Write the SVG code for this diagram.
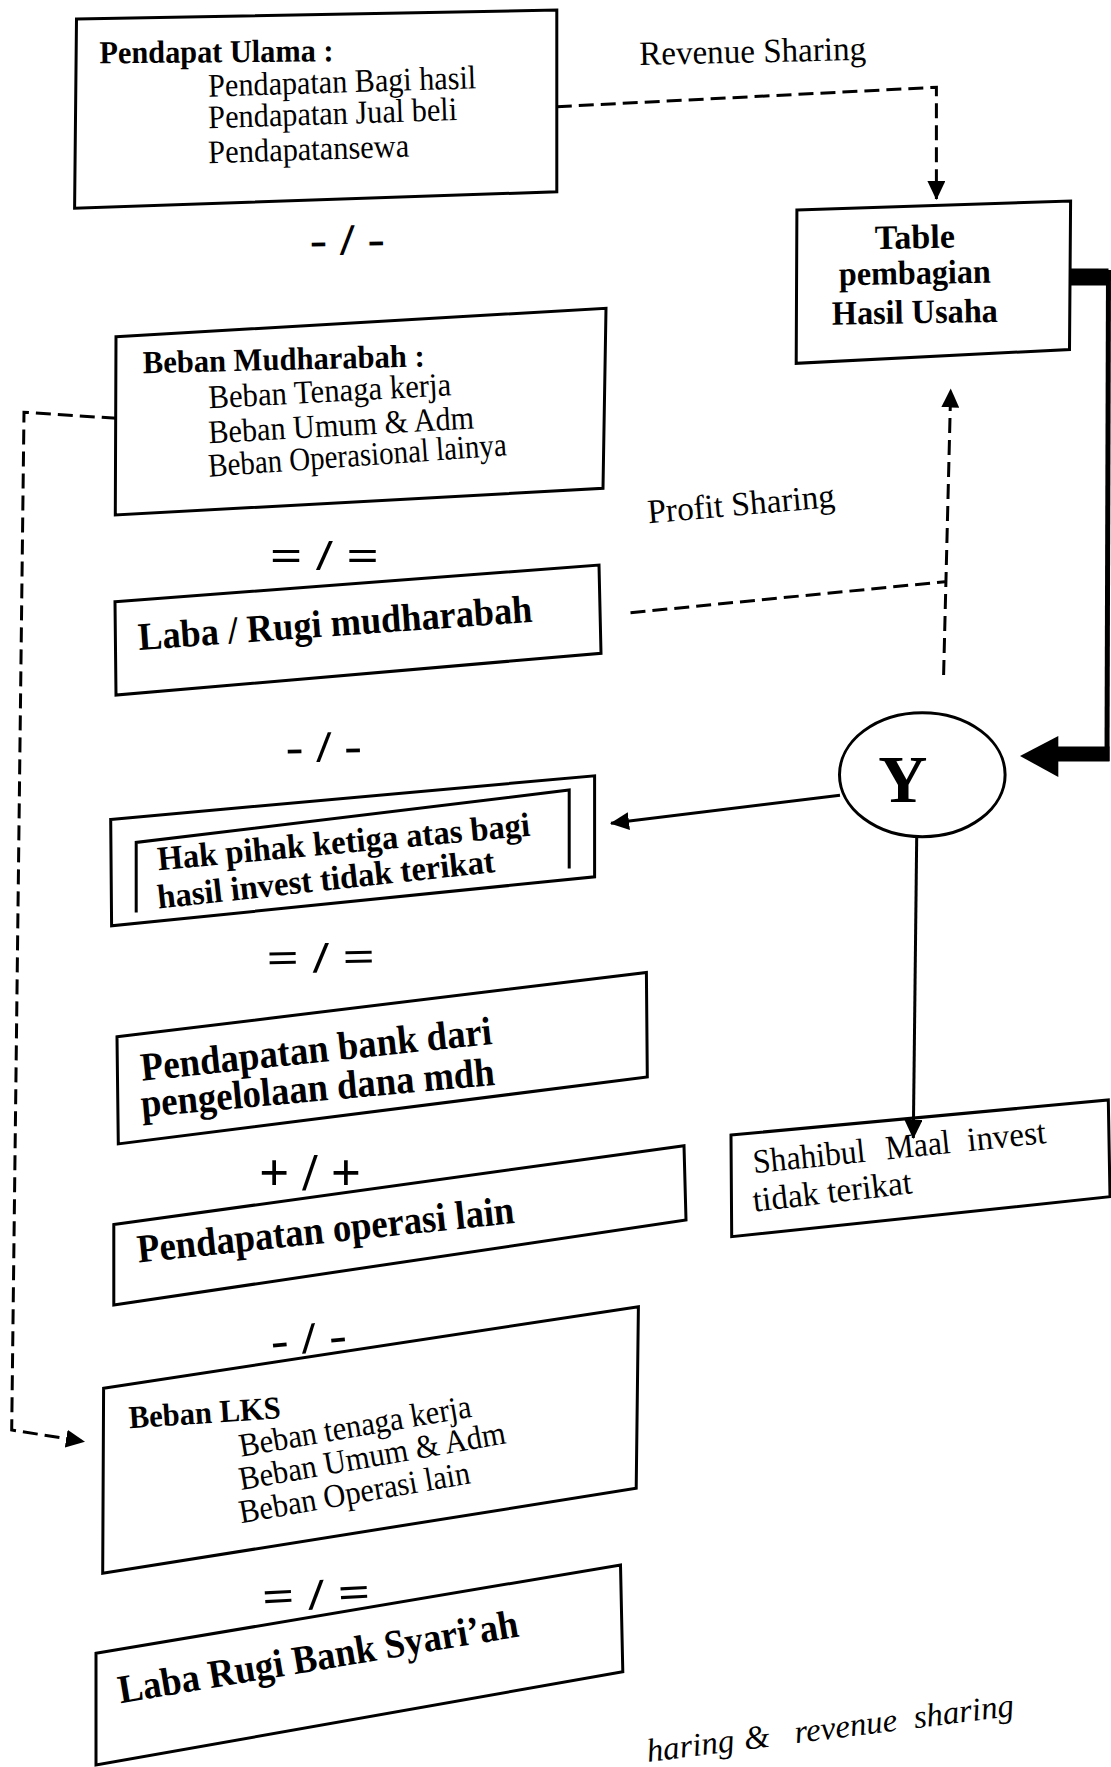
<svg xmlns="http://www.w3.org/2000/svg" width="1111" height="1767" viewBox="0 0 1111 1767">
  <defs>
    <style>
      .bg{fill:#fff}
      .box{fill:none;stroke:#000;stroke-width:3;stroke-linejoin:miter}
      .ln{fill:none;stroke:#000;stroke-width:3}
      .ds{fill:none;stroke:#000;stroke-width:3;stroke-dasharray:15 7}
      .t{font-family:"Liberation Serif","Times New Roman",serif;fill:#000}
      .b{font-weight:bold}
      .i{font-style:italic}
      .s32{font-size:32px}
      .s33{font-size:33px}
      .s34{font-size:34px}
      .s39{font-size:39px}
      .s40{font-size:40px}
      .op{font-family:"Liberation Serif","Times New Roman",serif;font-weight:bold;font-size:44px;fill:#000}
    </style>
    <marker id="ah" markerUnits="userSpaceOnUse" markerWidth="19" markerHeight="18" viewBox="0 0 19 18" refX="18" refY="9" orient="auto">
      <path d="M0,0 L19,9 L0,18 Z" fill="#000"/>
    </marker>
  </defs>

  <rect class="bg" x="0" y="0" width="1111" height="1767"/>

  <!-- income sources -->
  <g id="pendapat-ulama">
    <path class="box" d="M76.5,19 L556.8,10 L556.8,191.7 L74.6,208.3 Z"/>
    <text class="t b s32" x="99.5" y="63.3" textLength="234" lengthAdjust="spacingAndGlyphs" transform="rotate(-0.5 99.5 63.3)">Pendapat Ulama :</text>
    <text class="t s33" x="208.6" y="96.7" textLength="268" lengthAdjust="spacingAndGlyphs" transform="rotate(-1.8 208.6 96.7)">Pendapatan Bagi hasil</text>
    <text class="t s33" x="208.6" y="128.3" textLength="249" lengthAdjust="spacingAndGlyphs" transform="rotate(-1.9 208.6 128.3)">Pendapatan Jual beli</text>
    <text class="t s33" x="208.6" y="163.3" textLength="201" lengthAdjust="spacingAndGlyphs" transform="rotate(-1.9 208.6 163.3)">Pendapatansewa</text>
  </g>

  <g id="op-1"><text class="op" x="310" y="255" textLength="75" lengthAdjust="spacingAndGlyphs" transform="rotate(-1 310 255)">- / -</text></g>

  <!-- profit sharing table -->
  <g id="table-bagi-hasil">
    <path class="box" d="M796.9,210 L1070.6,201 L1069.5,349.5 L796.2,363.3 Z"/>
    <text class="t b s34" x="915" y="248.3" text-anchor="middle" transform="rotate(-1 915 248.3)">Table</text>
    <text class="t b s34" x="915" y="284" text-anchor="middle" textLength="152" lengthAdjust="spacingAndGlyphs" transform="rotate(-1 915 284)">pembagian</text>
    <text class="t b s34" x="915" y="323.3" text-anchor="middle" textLength="166" lengthAdjust="spacingAndGlyphs" transform="rotate(-1 915 323.3)">Hasil Usaha</text>
  </g>

  <g id="beban-mudharabah">
    <path class="box" d="M116,336.7 L606,308.3 L603,488.3 L115.3,515 Z"/>
    <text class="t b s32" x="143" y="373.3" textLength="282" lengthAdjust="spacingAndGlyphs" transform="rotate(-1.4 143 373.3)">Beban Mudharabah :</text>
    <text class="t s33" x="209" y="408.3" textLength="243" lengthAdjust="spacingAndGlyphs" transform="rotate(-3.1 209 408.3)">Beban Tenaga kerja</text>
    <text class="t s33" x="209" y="443.3" textLength="266" lengthAdjust="spacingAndGlyphs" transform="rotate(-3.2 209 443.3)">Beban Umum &amp; Adm</text>
    <text class="t s33" x="209" y="476.7" textLength="299" lengthAdjust="spacingAndGlyphs" transform="rotate(-4.1 209 476.7)">Beban Operasional lainya</text>
  </g>

  <g id="op-2"><text class="op" x="270" y="570" textLength="109" lengthAdjust="spacingAndGlyphs">= / =</text></g>

  <g id="laba-rugi-mudharabah">
    <path class="box" d="M115,601.7 L599,565 L601,653.3 L116,695 Z"/>
    <text class="t b s39" x="139" y="650" textLength="395" lengthAdjust="spacingAndGlyphs" transform="rotate(-4.1 139 650)">Laba / Rugi mudharabah</text>
  </g>

  <g id="op-3"><text class="op" x="286" y="762" textLength="76" lengthAdjust="spacingAndGlyphs" transform="rotate(-1 286 762)">- / -</text></g>

  <g id="hak-pihak-ketiga">
    <path class="box" d="M110.7,819.4 L594.6,775.8 L594.6,876.8 L111.6,925.8 Z"/>
    <path class="ln" d="M136.2,912.4 L136.2,842.4 L569.2,790 L569.2,868.4"/>
    <text class="t b s34" x="158.5" y="870.3" textLength="374" lengthAdjust="spacingAndGlyphs" transform="rotate(-5.3 158.5 870.3)">Hak pihak ketiga atas bagi</text>
    <text class="t b s34" x="158.5" y="908.6" textLength="339" lengthAdjust="spacingAndGlyphs" transform="rotate(-6.2 158.5 908.6)">hasil invest tidak terikat</text>
  </g>

  <g id="op-4"><text class="op" x="267" y="973" textLength="108" lengthAdjust="spacingAndGlyphs" transform="rotate(-1 267 973)">= / =</text></g>

  <g id="pendapatan-bank">
    <path class="box" d="M117,1036.8 L646.4,972.5 L647.3,1077 L118.3,1143.9 Z"/>
    <text class="t b s40" x="142" y="1080.8" textLength="353" lengthAdjust="spacingAndGlyphs" transform="rotate(-6 142 1080.8)">Pendapatan bank dari</text>
    <text class="t b s40" x="142" y="1117" textLength="355" lengthAdjust="spacingAndGlyphs" transform="rotate(-5.2 142 1117)">pengelolaan dana mdh</text>
  </g>

  <g id="op-5"><text class="op" x="259" y="1190" style="font-size:52px" textLength="102" lengthAdjust="spacingAndGlyphs">+ / +</text></g>

  <g id="pendapatan-operasi-lain">
    <path class="box" d="M113.8,1224.5 L684,1145.8 L686,1220 L113.8,1305 Z"/>
    <text class="t b s40" x="138.4" y="1262.6" textLength="379" lengthAdjust="spacingAndGlyphs" transform="rotate(-6 138.4 1262.6)">Pendapatan operasi lain</text>
  </g>

  <g id="op-6"><text class="op" x="272" y="1356" textLength="76" lengthAdjust="spacingAndGlyphs" transform="rotate(-5 272 1356)">- / -</text></g>

  <g id="beban-lks">
    <path class="box" d="M103.6,1388.3 L638.4,1306.7 L636.2,1488.3 L102.7,1573.3 Z"/>
    <text class="t b s32" x="129.5" y="1428.3" textLength="152" lengthAdjust="spacingAndGlyphs" transform="rotate(-3.8 129.5 1428.3)">Beban LKS</text>
    <text class="t s33" x="241" y="1456.7" textLength="235" lengthAdjust="spacingAndGlyphs" transform="rotate(-9.8 241 1456.7)">Beban tenaga kerja</text>
    <text class="t s33" x="241" y="1490" textLength="270" lengthAdjust="spacingAndGlyphs" transform="rotate(-10 241 1490)">Beban Umum &amp; Adm</text>
    <text class="t s33" x="241" y="1523.3" textLength="234" lengthAdjust="spacingAndGlyphs" transform="rotate(-9.9 241 1523.3)">Beban Operasi lain</text>
  </g>

  <g id="op-7"><text class="op" x="263" y="1612" textLength="108" lengthAdjust="spacingAndGlyphs" transform="rotate(-3 263 1612)">= / =</text></g>

  <g id="laba-rugi-bank">
    <path class="box" d="M96,1653.3 L620.5,1565 L622.8,1671.7 L96,1765 Z"/>
    <text class="t b s40" x="120.5" y="1703.3" textLength="405" lengthAdjust="spacingAndGlyphs" transform="rotate(-9.5 120.5 1703.3)">Laba Rugi Bank Syari’ah</text>
  </g>

  <!-- distribution node -->
  <g id="node-y">
    <ellipse class="ln" cx="922.3" cy="774.7" rx="82.8" ry="62"/>
    <text class="t b" x="902.7" y="801.7" style="font-size:68px" text-anchor="middle">Y</text>
  </g>

  <g id="shahibul-maal">
    <path class="box" d="M731,1135 L1108.3,1100 L1110,1196.7 L731.7,1236.7 Z"/>
    <text class="t s34" transform="translate(754 1173.3) rotate(-5.9)"><tspan x="0" y="0" textLength="113" lengthAdjust="spacingAndGlyphs">Shahibul</tspan><tspan x="133.4" y="0" textLength="65" lengthAdjust="spacingAndGlyphs">Maal</tspan><tspan x="215.4" y="0" textLength="79" lengthAdjust="spacingAndGlyphs">invest</tspan></text>
    <text class="t s34" x="754" y="1211.7" textLength="160" lengthAdjust="spacingAndGlyphs" transform="rotate(-6.6 754 1211.7)">tidak terikat</text>
  </g>

  <!-- labels -->
  <g id="labels">
    <text class="t s34" x="639.4" y="65" textLength="227" lengthAdjust="spacingAndGlyphs" transform="rotate(-1.3 639.4 65)">Revenue Sharing</text>
    <text class="t s34" x="648.4" y="523.3" textLength="188" lengthAdjust="spacingAndGlyphs" transform="rotate(-5 648.4 523.3)">Profit Sharing</text>
    <text class="t i" style="font-size:33px" transform="translate(648 1762) rotate(-7.2)"><tspan x="0" y="0">haring</tspan><tspan x="98" y="0">&amp;</tspan><tspan x="149" y="0">revenue</tspan><tspan x="269" y="0">sharing</tspan></text>
  </g>

  <!-- connectors -->
  <g id="connectors">
    <path class="ds" d="M556.8,106.7 L936.4,87.3 L936.4,199" marker-end="url(#ah)"/>
    <path class="ds" d="M630.5,612.7 L945,581.7"/>
    <path class="ds" d="M943.6,675 L950.7,389.5" marker-end="url(#ah)"/>
    <path class="ds" d="M116.7,418.3 L24,412.3 L11.7,1430 L84,1441.5" marker-end="url(#ah)"/>
    <path class="ln" d="M840,795.3 L611,823.3" marker-end="url(#ah)"/>
    <path class="ln" d="M916.7,837 L913.3,1138" marker-end="url(#ah)"/>
    <path d="M1070,277 L1108.5,277" fill="none" stroke="#000" stroke-width="17"/>
    <path d="M1108.5,270 L1107,761" fill="none" stroke="#000" stroke-width="5"/>
    <path d="M1109.5,754 L1056,754" fill="none" stroke="#000" stroke-width="15"/>
    <path d="M1020,756 L1058.3,736 L1058.3,777 Z" fill="#000"/>
  </g>
</svg>
